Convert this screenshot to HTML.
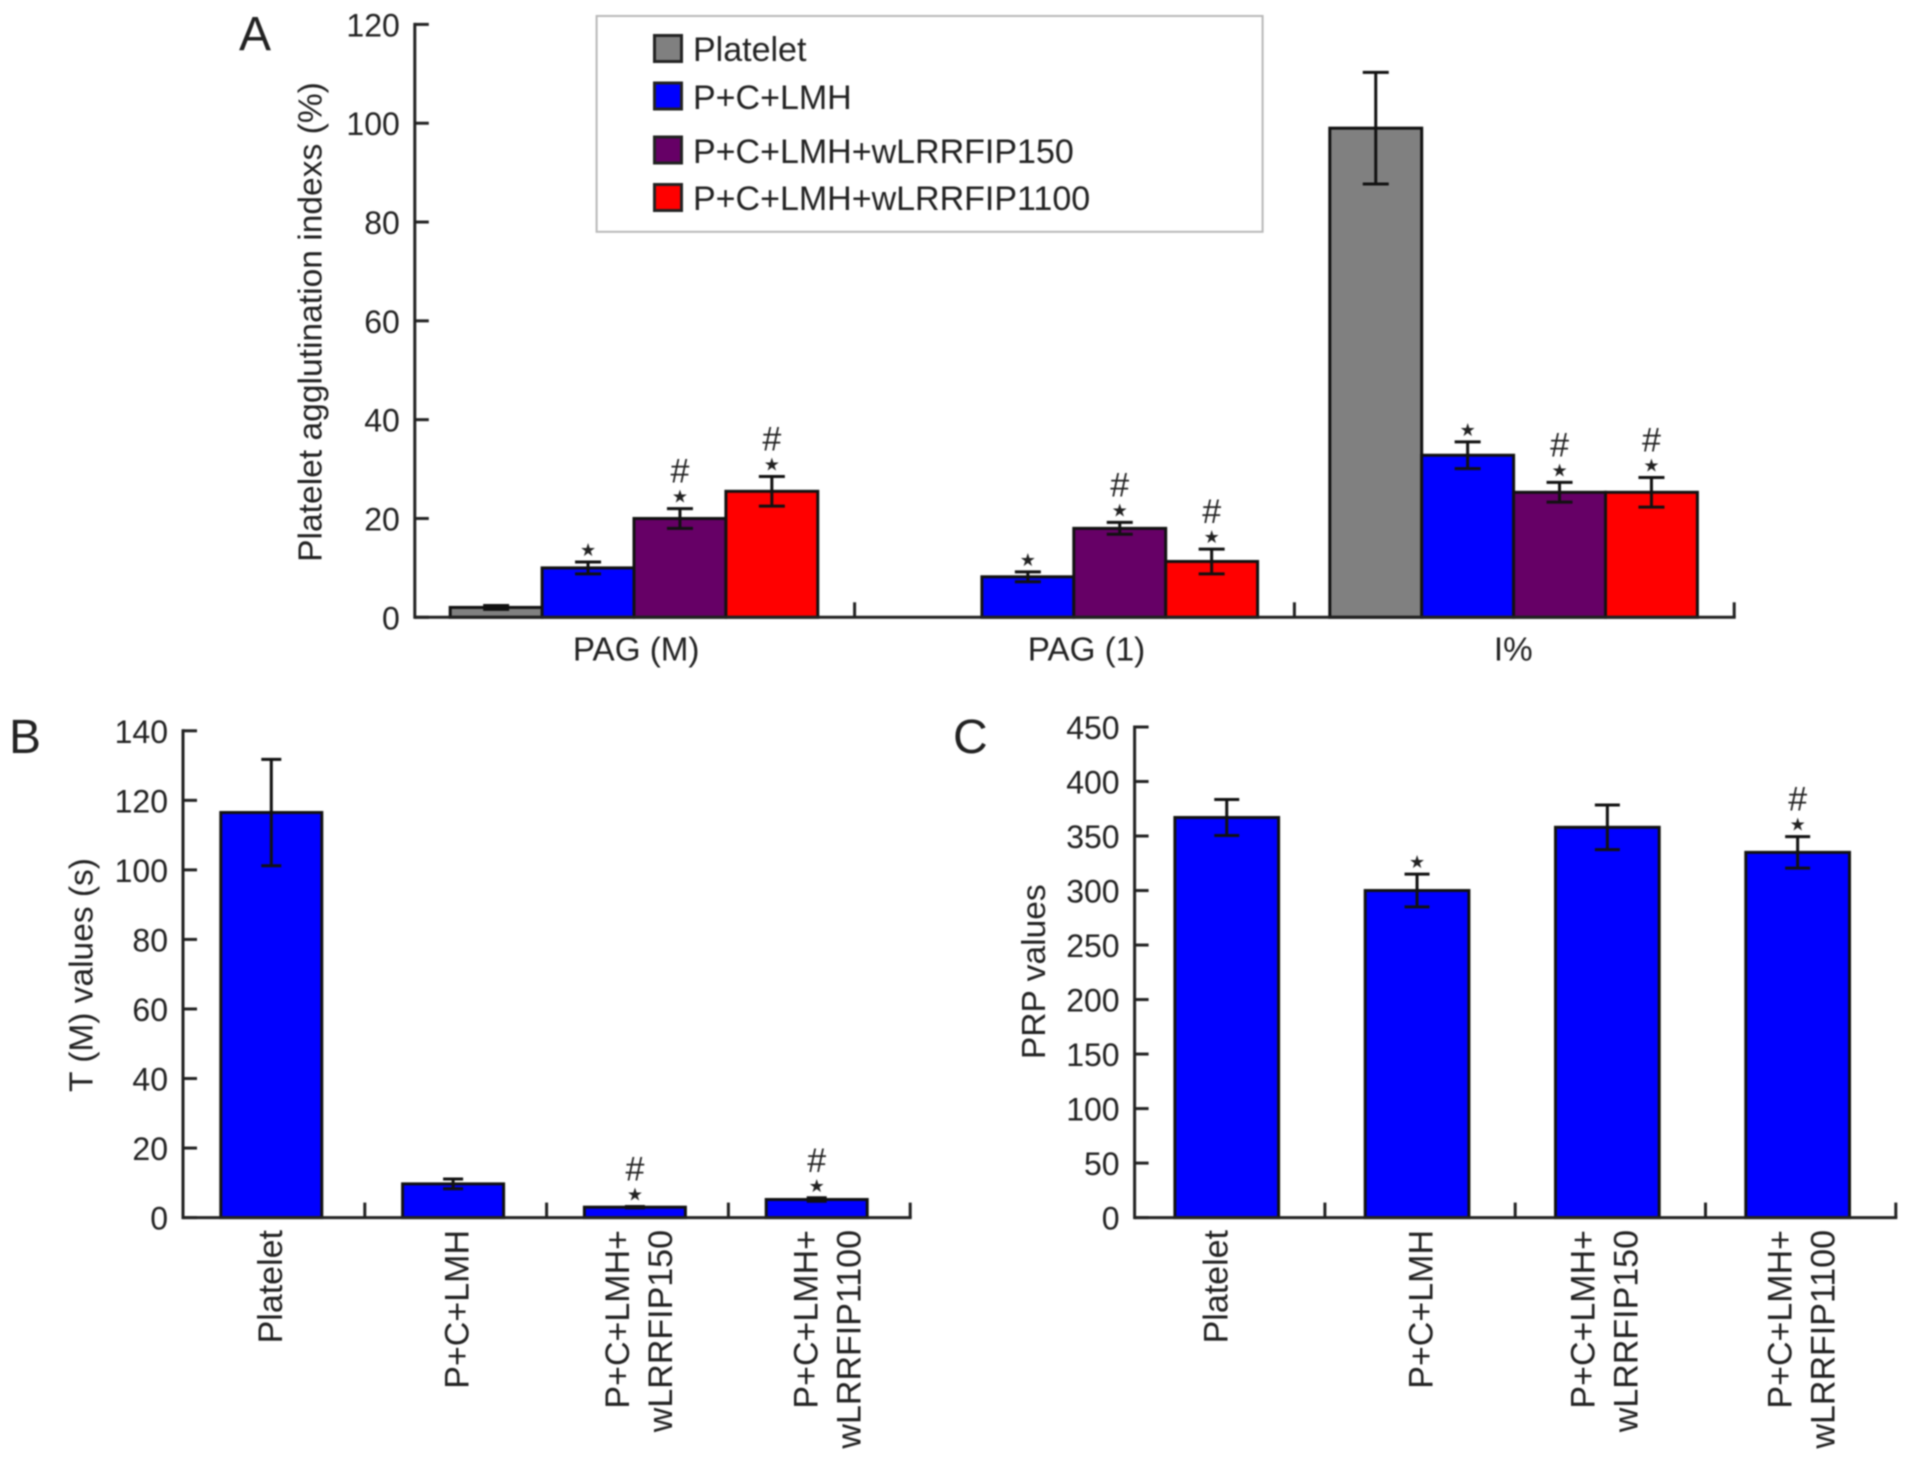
<!DOCTYPE html>
<html lang="en">
<head>
<meta charset="utf-8">
<title>Platelet agglutination, T (M) and PRP values</title>
<style>
html,body{margin:0;padding:0;background:#fff;}
#figure{display:block;width:1913px;height:1459px;filter:blur(.7px);}
text{font-family:"Liberation Sans",Arial,sans-serif;fill:#222;}
</style>
</head>
<body>
<svg id="figure" xmlns="http://www.w3.org/2000/svg" width="1913" height="1459" viewBox="0 0 1913 1459">
  <g>
    <rect x="596.6" y="16" width="666" height="215.8" fill="#fff" stroke="#b8b8b8" stroke-width="2"/>
    <rect x="654.5" y="35.5" width="27" height="26" fill="#808080" stroke="#222" stroke-width="3"/>
    <text x="693" y="61" font-size="34">Platelet</text>
    <rect x="654.5" y="83" width="27" height="26" fill="#0000ff" stroke="#222" stroke-width="3"/>
    <text x="693" y="109" font-size="34">P+C+LMH</text>
    <rect x="654.5" y="137" width="27" height="26" fill="#660066" stroke="#222" stroke-width="3"/>
    <text x="693" y="163" font-size="34">P+C+LMH+wLRRFIP150</text>
    <rect x="654.5" y="184.5" width="27" height="26" fill="#ff0000" stroke="#222" stroke-width="3"/>
    <text x="693" y="210" font-size="34">P+C+LMH+wLRRFIP1100</text>
  </g>
  <text x="239" y="50" font-size="48">A</text>
  <text x="9" y="753" font-size="48">B</text>
  <text x="953" y="753" font-size="48">C</text>
  <text transform="translate(321.5 322) rotate(-90)" text-anchor="middle" font-size="33.6">Platelet agglutination indexs (%)</text>
  <text transform="translate(92.5 975) rotate(-90)" text-anchor="middle" font-size="33.5">T (M) values (s)</text>
  <text transform="translate(1045 971.7) rotate(-90)" text-anchor="middle" font-size="33.6">PRP values</text>
  <g id="chart-a"></g>
  <g id="chart-b"></g>
  <g id="chart-c"></g>
</svg>
<script>
// Panel A data
const aCategories = ['PAG (M)', 'PAG (1)', 'I%'];
const aSeriesNames = ['platelet', 'lmh', 'wlrrfip150', 'wlrrfip1100'];
const aPlatelet = [2, null, 99];
const aLmh = [10, 8.2, 32.8];
const aW150 = [20, 18, 25.3];
const aW1100 = [25.5, 11.3, 25.3];
const aPlateletErr = [0.4, null, 11.3];
const aLmhErr = [1.2, 1, 2.7];
const aW150Err = [2, 1.2, 2];
const aW1100Err = [3, 2.5, 3];
const aPlateletMarks = ['', '', ''];
const aLmhMarks = ['*', '*', '*'];
const aW150Marks = ['#*', '#*', '#*'];
const aW1100Marks = ['#*', '#*', '#*'];
const aTicks = [0, 20, 40, 60, 80, 100, 120];

// Panel B data
const bCategories = [['Platelet'], ['P+C+LMH'], ['P+C+LMH+', 'wLRRFIP150'], ['P+C+LMH+', 'wLRRFIP1100']];
const bValues = [116.5, 9.7, 3, 5.2];
const bErrors = [15.3, 1.4, 0.2, 0.5];
const bMarks = ['', '', '#*', '#*'];
const bTicks = [0, 20, 40, 60, 80, 100, 120, 140];

// Panel C data
const cCategories = [['Platelet'], ['P+C+LMH'], ['P+C+LMH+', 'wLRRFIP150'], ['P+C+LMH+', 'wLRRFIP1100']];
const cValues = [367, 300, 358, 335];
const cErrors = [16.5, 15, 20.5, 14.5];
const cMarks = ['', '*', '', '#*'];
const cTicks = [0, 50, 100, 150, 200, 250, 300, 350, 400, 450];

const SVGNS = 'http://www.w3.org/2000/svg';
const INK = '#222';

function make(parent, tag, attrs, text) {
  const node = document.createElementNS(SVGNS, tag);
  for (const k in attrs) node.setAttribute(k, attrs[k]);
  if (text !== undefined) node.textContent = text;
  parent.appendChild(node);
  return node;
}

function linearY(y0, yMax, maxValue) {
  return v => y0 + (yMax - y0) * (v / maxValue);
}

function drawAxes(g, p, ticks, yScale, groupCount) {
  const yLine = make(g, 'line', {x1: p.x0, x2: p.x0, y1: yScale(ticks[ticks.length - 1]) - 1.5, y2: p.y0 + 1.5, stroke: INK, 'stroke-width': 3});
  
  
  const xLine = make(g, 'line', {x1: p.x0, x2: p.x0 + p.groupW * groupCount + 1.5, y1: p.y0, y2: p.y0, stroke: INK, 'stroke-width': 3});
  
  
  ticks.forEach(t => {
    const y = yScale(t);
    const tick = make(g, 'line', {x1: p.x0, x2: p.x0 + 14, y1: y, y2: y, stroke: INK, 'stroke-width': 3});
    
    
    const label = make(g, 'text', {x: p.x0 - p.tickGap, y: y + 12, 'text-anchor': 'end', 'font-size': 32}, String(t));
    
    
  });
  for (let i = 1; i <= groupCount; i++) {
    const x = p.x0 + p.groupW * i;
    const tick = make(g, 'line', {x1: x, x2: x, y1: p.y0, y2: p.y0 - 15, stroke: INK, 'stroke-width': 3});
    
    
  }
}

function drawBar(g, x, w, value, err, color, yScale, y0, capW, marks) {
  const top = yScale(value);
  const bar = make(g, 'rect', {x: x, y: top, width: w, height: y0 - top, fill: color, stroke: '#111', 'stroke-width': 3});
  
  
  const cx = x + w / 2;
  const up = yScale(value + err);
  const down = yScale(value - err);
  const d = 'M' + cx + ' ' + up + 'V' + down + 'M' + (cx - capW / 2) + ' ' + up + 'H' + (cx + capW / 2) + 'M' + (cx - capW / 2) + ' ' + down + 'H' + (cx + capW / 2);
  const whisker = make(g, 'path', {d: d, fill: 'none', stroke: '#111', 'stroke-width': 3});
  
  
  if (marks.includes('*')) {
    const star = make(g, 'text', {x: cx, y: up - 6, 'text-anchor': 'middle', 'font-size': 18, style: 'font-family:"DejaVu Sans",sans-serif'}, '\u2605');
    
    
  }
  if (marks.includes('#')) {
    const hash = make(g, 'text', {x: cx, y: up - 26, 'text-anchor': 'middle', 'font-size': 34}, '#');
    
    
  }
}

// Panel A
(function () {
  const g = document.getElementById('chart-a');
  const p = {x0: 414.8, y0: 617.3, groupW: 439.8, offset: 35.4, barW: 91.9, tickGap: 15, capW: 26};
  const yScale = linearY(617.3, 24.4, 120);
  const values = [aPlatelet, aLmh, aW150, aW1100];
  const errors = [aPlateletErr, aLmhErr, aW150Err, aW1100Err];
  const marks = [aPlateletMarks, aLmhMarks, aW150Marks, aW1100Marks];
  const colors = ['#808080', '#0000ff', '#660066', '#ff0000'];
  const labelShift = [1.5, 12, -1];
  aCategories.forEach((cat, i) => {
    const gx = p.x0 + p.groupW * i + p.offset;
    aSeriesNames.forEach((name, s) => {
      if (values[s][i] === null) return;
      drawBar(g, gx + p.barW * s, p.barW, values[s][i], errors[s][i], colors[s], yScale, p.y0, p.capW, marks[s][i]);
    });
    const label = make(g, 'text', {x: p.x0 + p.groupW * (i + 0.5) + labelShift[i], y: 660.5, 'text-anchor': 'middle', 'font-size': 33.2}, cat);
    
    
  });
  drawAxes(g, p, aTicks, yScale, aCategories.length);
})();

function drawSimple(g, p, categories, vals, errs, marks, ticks, maxValue) {
  const yScale = linearY(p.y0, p.yMax, maxValue);
  vals.forEach((v, i) => {
    const x = p.x0 + p.groupW * i + p.offset;
    drawBar(g, x, p.barW, v, errs[i], '#0000ff', yScale, p.y0, p.capW, marks[i]);
    const lines = categories[i];
    const center = x + p.barW / 2 + p.labelShift[i];
    lines.forEach((line, n) => {
      const lx = center + 12.5 + (n - (lines.length - 1) / 2) * 43;
      const label = make(g, 'text', {transform: 'translate(' + lx + ' ' + p.labelTop + ') rotate(-90)', 'text-anchor': 'end', 'font-size': 34}, line);
      
      
    });
  });
  drawAxes(g, p, ticks, yScale, vals.length);
}

drawSimple(document.getElementById('chart-b'),
  {x0: 183, y0: 1217.6, yMax: 730.8, groupW: 181.8, offset: 37.8, barW: 101, tickGap: 15, capW: 20, labelTop: 1230, labelShift: [-1.7, 3, 3, 10]},
  bCategories, bValues, bErrors, bMarks, bTicks, 140);

drawSimple(document.getElementById('chart-c'),
  {x0: 1134.6, y0: 1217.6, yMax: 727, groupW: 190.3, offset: 40.3, barW: 103.7, tickGap: 15, capW: 25, labelTop: 1230, labelShift: [-12, 3, -4, 3]},
  cCategories, cValues, cErrors, cMarks, cTicks, 450);
</script>
</body>
</html>
